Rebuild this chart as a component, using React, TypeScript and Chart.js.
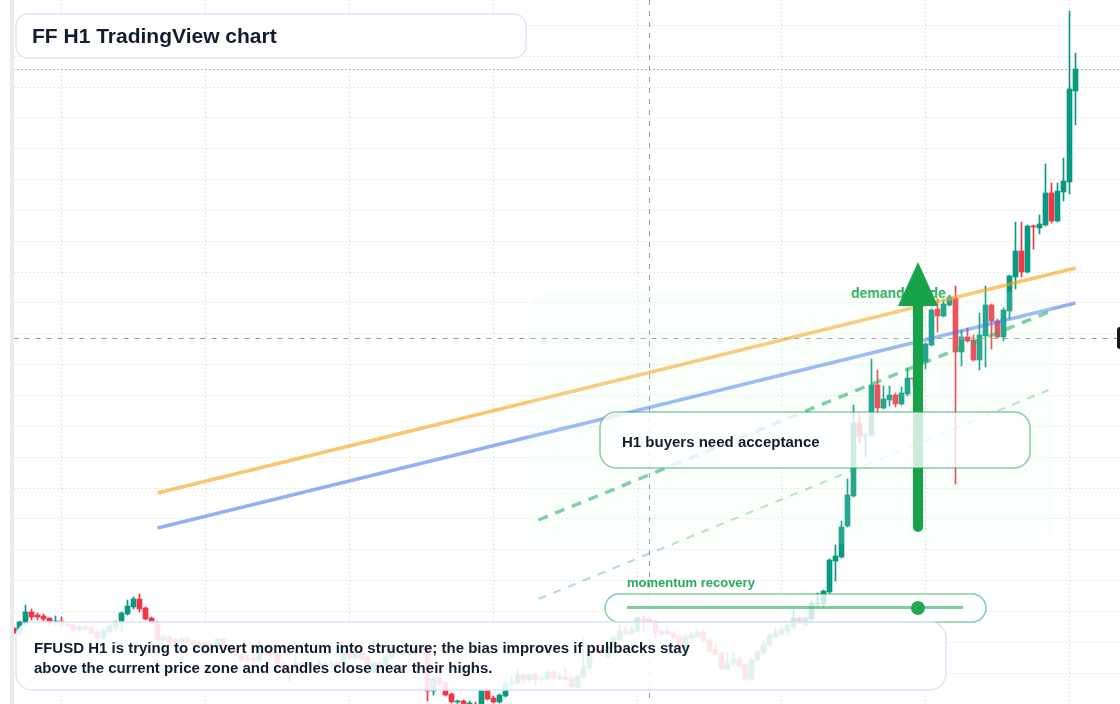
import React from "react";
import { Chart, registerables } from "chart.js";

Chart.register(...registerables);

// hourly candles, oldest first. price units are the chart's own (no axis labels in the reference)
const opens = [
  7.6, 7.1, 8.2, 9.2, 8.9, 8.8, 8.6, 8.2, 8.3, 8.0, 7.9, 7.4, 7.7, 7.6, 7.2, 6.7, 7.2, 7.7, 8.1, 9.0,
  9.7, 10.5, 9.6, 8.6, 8.2, 6.4, 6.7, 6.4, 6.2, 6.5, 6.3, 6.1, 6.1, 5.9, 5.9, 6.5, 5.9, 5.4, 4.9, 4.5,
  4.5, 4.3, 5.2, 5.1, 5.0, 4.0, 3.6, 3.8, 4.1, 3.9, 3.9, 3.8, 3.9, 3.9, 4.1, 4.2, 5.4, 4.6, 5.2, 4.7,
  3.2, 4.1, 4.0, 4.7, 5.4, 4.9, 5.4, 5.0, 5.6, 5.6, 1.3, 2.6, 2.1, 1.0, 0.2, 0.3, -0.1, -0.1, -0.2, 1.5,
  0.6, 0.2, 0.8, 2.1, 2.1, 2.9, 2.4, 3.0, 2.5, 2.5, 3.2, 2.5, 2.7, 2.6, 1.7, 2.7, 3.6, 5.4, 5.4, 4.7,
  5.7, 6.4, 7.3, 7.0, 7.3, 8.5, 8.5, 8.2, 7.0, 7.3, 7.1, 6.8, 5.7, 6.6, 6.8, 7.2, 6.4, 5.4, 5.1, 3.5,
  4.1, 4.5, 3.9, 2.5, 4.4, 5.1, 5.9, 6.7, 7.0, 7.3, 7.7, 8.6, 7.9, 8.5, 10.0, 10.0, 11.2, 14.3, 14.7, 17.8,
  20.8, 28.1, 26.8, 26.9, 31.9, 29.6, 30.4, 30.9, 30.0, 31.0, 32.6, 32.6, 34.2, 35.9, 39.5, 38.8, 39.9, 40.6, 35.2, 36.7,
  36.4, 34.4, 36.8, 39.9, 38.3, 36.7, 39.3, 42.7, 45.3, 43.2, 47.8, 47.6, 47.9, 51.1, 48.3, 51.2, 52.2, 61.3,
];
const closes = [
  7.1, 8.2, 9.2, 8.7, 8.7, 8.5, 8.2, 8.3, 7.9, 7.8, 7.4, 7.7, 7.5, 7.1, 6.6, 7.4, 7.8, 8.2, 9.1, 9.8,
  10.5, 9.5, 8.5, 8.2, 6.4, 6.7, 6.2, 6.2, 6.5, 6.2, 5.9, 5.9, 5.8, 5.8, 6.5, 5.9, 5.4, 4.9, 4.4, 4.4,
  4.4, 5.4, 5.0, 4.9, 4.1, 3.3, 3.2, 4.1, 3.8, 4.1, 3.7, 4.1, 4.0, 4.0, 3.9, 5.4, 4.6, 5.1, 4.5, 3.6,
  4.1, 3.9, 4.7, 5.6, 5.1, 5.4, 5.0, 5.6, 5.2, 1.3, 2.6, 2.0, 0.9, 0.2, 0.3, 0.0, 0.1, -0.4, 1.4, 0.5,
  0.2, 0.9, 2.0, 2.2, 2.9, 2.4, 2.9, 2.4, 2.6, 3.2, 2.6, 2.8, 2.5, 1.7, 2.8, 3.7, 5.1, 5.1, 5.0, 5.7,
  6.6, 7.3, 7.0, 7.4, 8.6, 8.4, 8.2, 7.1, 7.3, 7.0, 6.7, 5.7, 6.7, 6.9, 7.2, 6.3, 5.3, 5.0, 3.5, 4.2,
  4.5, 3.8, 2.5, 4.4, 5.2, 5.9, 6.9, 7.1, 7.4, 7.8, 8.6, 8.1, 8.6, 10.1, 10.1, 11.3, 14.4, 14.8, 17.7, 20.9,
  28.1, 26.8, 26.9, 31.9, 29.6, 30.5, 30.9, 30.0, 31.1, 32.6, 32.5, 34.2, 36.0, 39.4, 38.8, 40.0, 40.7, 35.2, 36.7, 36.3,
  34.4, 36.9, 39.9, 38.3, 36.7, 39.4, 42.8, 45.3, 43.2, 47.8, 47.7, 48.0, 51.1, 48.3, 51.3, 52.3, 61.5, 63.5,
];
const highs = [
  7.8, 8.3, 9.9, 9.5, 9.1, 9.0, 8.6, 8.8, 8.7, 8.1, 8.0, 7.9, 8.2, 7.7, 7.3, 7.5, 7.9, 8.3, 9.2, 10.4,
  10.7, 11.0, 9.7, 8.7, 8.3, 7.0, 6.8, 6.6, 6.7, 6.7, 6.4, 6.3, 6.2, 6.1, 6.6, 6.6, 6.0, 5.5, 5.0, 4.9,
  5.0, 6.4, 5.5, 5.3, 5.1, 4.1, 3.7, 5.4, 4.3, 4.3, 4.0, 4.5, 4.2, 4.3, 4.2, 5.7, 5.5, 5.3, 5.4, 4.8,
  4.3, 4.4, 4.9, 5.8, 5.6, 5.6, 5.6, 5.8, 5.8, 5.8, 2.7, 2.7, 2.2, 1.1, 0.4, 0.4, 0.3, 0.2, 1.5, 1.6,
  0.8, 1.0, 2.4, 2.7, 3.4, 3.0, 3.0, 3.1, 2.9, 3.4, 3.4, 3.0, 3.7, 2.7, 2.9, 6.7, 5.3, 5.6, 5.5, 5.9,
  6.8, 8.2, 7.7, 7.7, 8.7, 8.8, 8.7, 8.4, 7.4, 7.8, 7.2, 6.9, 7.1, 7.2, 7.4, 7.4, 6.5, 6.1, 5.2, 5.1,
  5.1, 4.7, 4.0, 4.5, 5.4, 6.4, 7.1, 7.7, 7.7, 8.0, 9.4, 8.7, 8.7, 10.3, 11.1, 11.4, 14.5, 15.9, 18.3, 22.5,
  29.9, 29.1, 27.1, 34.5, 33.4, 31.8, 31.8, 31.1, 31.7, 33.6, 32.6, 34.9, 36.1, 39.5, 40.5, 40.4, 40.9, 41.8, 37.4, 37.6,
  36.9, 39.1, 41.8, 40.0, 38.5, 39.6, 42.9, 48.2, 48.2, 47.9, 47.9, 48.9, 54.0, 52.1, 52.1, 54.6, 69.3, 65.1,
];
const lows = [
  7.0, 6.9, 7.9, 8.4, 8.4, 8.3, 7.8, 7.9, 7.7, 7.7, 7.2, 7.2, 7.3, 7.0, 6.5, 6.4, 7.1, 7.3, 7.3, 8.9,
  9.5, 9.2, 8.4, 8.1, 6.3, 6.3, 6.1, 6.0, 6.0, 6.0, 5.8, 5.7, 5.7, 5.6, 5.8, 5.8, 5.3, 4.8, 4.3, 4.2,
  4.1, 4.2, 4.9, 4.8, 4.0, 3.2, 2.2, 3.5, 3.7, 3.8, 3.6, 3.7, 3.8, 3.7, 3.8, 4.1, 4.5, 4.4, 4.4, 3.5,
  3.1, 3.6, 3.9, 4.6, 5.0, 4.8, 4.9, 4.9, 5.1, 0.3, 0.9, 1.9, 0.8, 0.1, 0.0, -0.1, -0.4, -0.5, -0.4, 0.4,
  0.1, 0.1, 0.7, 1.7, 2.0, 2.0, 2.2, 1.9, 2.3, 2.4, 2.5, 2.4, 2.4, 1.6, 1.6, 2.6, 3.5, 5.0, 4.9, 4.6,
  5.6, 6.3, 6.9, 6.9, 7.2, 7.3, 8.1, 6.6, 6.9, 6.9, 6.6, 5.6, 5.6, 6.5, 6.7, 6.2, 5.2, 4.9, 3.4, 3.4,
  3.8, 3.7, 2.3, 2.4, 4.3, 5.0, 5.8, 6.6, 6.9, 6.8, 7.6, 8.0, 7.8, 8.4, 9.6, 9.6, 11.1, 12.3, 14.6, 17.7,
  20.7, 26.0, 24.7, 26.8, 29.0, 29.5, 29.8, 29.7, 29.9, 30.8, 31.7, 32.5, 33.5, 35.8, 37.2, 38.7, 39.8, 22.0, 33.8, 36.2,
  34.3, 33.4, 33.7, 35.5, 36.6, 36.3, 38.5, 41.5, 42.7, 43.1, 45.5, 47.0, 47.8, 48.1, 48.2, 50.3, 51.0, 57.9,
];

// hour index of the first candle; vertical grid falls every 24 candles
const firstHour = -8;

const crosshairHour = 98;
const crosshairPrice = 36.55;
const lastPrice = 63.45;

// trend lines as [hour, price] end points
const orangeLine = [[16, 21.1], [169, 43.6]];
const blueLine = [[16, 17.6], [169, 40.1]];
const supportLine = [[79.5, 18.4], [164.5, 39.2]];
const lowerLine = [[79.5, 10.5], [164.5, 31.4]];

// demand zone [hourFrom, hourTo, priceLow, priceHigh]
const demandZone = [77.75, 165.1, 16, 41.2];
// arrow [hour, tailPrice, headBasePrice, tipPrice]
const arrow = [142.75, 17.7, 39.8, 44.2];

const UP = "#089981";
const DOWN = "#f23645";

const hours = opens.map((_, i) => firstHour + i);
const candleColors = opens.map((o, i) => (closes[i] >= o ? UP : DOWN));

const toPoints = (line: number[][]) => line.map(([x, y]) => ({ x, y }));

const overlayPlugin = {
  id: "overlays",
  afterDatasetsDraw(chart: any) {
    const { ctx, scales } = chart;
    const { x, y } = scales;

    // zone sits above the candles and washes them out a little
    const zx0 = x.getPixelForValue(demandZone[0]);
    const zx1 = x.getPixelForValue(demandZone[1]);
    const zy0 = y.getPixelForValue(demandZone[3]);
    const zy1 = y.getPixelForValue(demandZone[2]);
    ctx.save();
    ctx.fillStyle = "rgba(220,252,231,0.14)";
    ctx.beginPath();
    ctx.roundRect(zx0, zy0, zx1 - zx0, zy1 - zy0, 18);
    ctx.fill();

    const ax = x.getPixelForValue(arrow[0]);
    const tail = y.getPixelForValue(arrow[1]);
    const base = y.getPixelForValue(arrow[2]);
    const tip = y.getPixelForValue(arrow[3]);
    ctx.strokeStyle = "#16a34a";
    ctx.fillStyle = "#16a34a";
    ctx.lineWidth = 10;
    ctx.lineCap = "round";
    ctx.beginPath();
    ctx.moveTo(ax, tail);
    ctx.lineTo(ax, base);
    ctx.stroke();
    ctx.beginPath();
    ctx.moveTo(ax, tip);
    ctx.lineTo(ax + 20, base);
    ctx.lineTo(ax - 20, base);
    ctx.closePath();
    ctx.fill();
    ctx.restore();
  },
};

const font = '"Liberation Sans", Arial, sans-serif';

// panels are svg rects: css would floor a 1.5px border down to 1px
const Panel = ({ x, y, w, h, r, stroke, fill }: { x: number; y: number; w: number; h: number; r: number; stroke: string; fill: string }) => (
  <svg width={1120} height={704} style={{ position: "absolute", left: 0, top: 0 }}>
    <rect x={x} y={y} width={w} height={h} rx={r} ry={r} fill={fill} stroke={stroke} strokeWidth={1.5} />
  </svg>
);

const BLUE_EDGE = "#dae6fb";
const GREEN_EDGE = "rgba(22,163,74,0.52)";
const INK = "#111c2e";
const GREEN_TEXT = "#27ab5b";

const label = (left: number, top: number, fontSize: number, lineHeight: number, color: string): React.CSSProperties => ({
  position: "absolute",
  left,
  top,
  fontSize,
  lineHeight: `${lineHeight}px`,
  fontWeight: 700,
  color,
  whiteSpace: "nowrap",
});

const App = () => {
  const canvasRef = React.useRef<HTMLCanvasElement>(null);

  React.useEffect(() => {
    if (!canvasRef.current) return;
    const chart = new Chart(canvasRef.current, {
      type: "bar",
      plugins: [overlayPlugin],
      data: {
        datasets: [
          {
            label: "wicks",
            order: 6,
            data: hours.map((h, i) => ({ x: h, y: [lows[i], highs[i]] })) as any,
            backgroundColor: candleColors,
            barThickness: 1,
            grouped: false,
          },
          {
            label: "bodies",
            order: 5,
            data: hours.map((h, i) => ({ x: h, y: [opens[i], closes[i]] })) as any,
            backgroundColor: candleColors,
            barThickness: 5,
            grouped: false,
          },
          {
            type: "line",
            label: "crosshair x",
            order: 4,
            data: [{ x: crosshairHour, y: 70.4 }, { x: crosshairHour, y: 0 }],
            borderColor: "#9a9a9a",
            borderWidth: 1,
            borderDash: [5, 6],
            pointRadius: 0,
          },
          {
            type: "line",
            label: "crosshair y",
            order: 4,
            data: [{ x: firstHour, y: crosshairPrice }, { x: 177, y: crosshairPrice }],
            borderColor: "#9a9a9a",
            borderWidth: 1,
            borderDash: [5, 6],
            pointRadius: 0,
          },
          {
            type: "line",
            label: "last price",
            order: 4,
            data: [{ x: firstHour, y: lastPrice }, { x: 177, y: lastPrice }],
            borderColor: UP,
            borderWidth: 1,
            borderDash: [1, 3],
            pointRadius: 0,
          },
          {
            type: "line",
            label: "orange",
            order: 3,
            data: toPoints(orangeLine),
            borderColor: "rgba(245,158,11,0.6)",
            borderWidth: 3.5,
            pointRadius: 0,
          },
          {
            type: "line",
            label: "blue",
            order: 3,
            data: toPoints(blueLine),
            borderColor: "rgba(37,99,235,0.5)",
            borderWidth: 3.5,
            pointRadius: 0,
          },
          {
            type: "line",
            label: "support",
            order: 3,
            data: toPoints(supportLine),
            borderColor: "rgba(22,163,74,0.6)",
            borderWidth: 3.5,
            borderDash: [10, 8],
            pointRadius: 0,
          },
          {
            type: "line",
            label: "lower",
            order: 3,
            data: toPoints(lowerLine),
            borderColor: "rgba(22,163,74,0.35)",
            borderWidth: 2,
            borderDash: [8, 8],
            pointRadius: 0,
          },
        ] as any,
      },
      options: {
        responsive: false,
        animation: false,
        parsing: { xAxisKey: "x", yAxisKey: "y" },
        layout: { padding: { left: 14, right: 0, top: 0, bottom: 0 } },
        plugins: { legend: { display: false }, tooltip: { enabled: false } },
        datasets: { bar: { borderWidth: 0 } },
        scales: {
          x: {
            type: "linear",
            min: -7.9167,
            max: 176.4167,
            offset: false,
            ticks: { display: false, stepSize: 24, includeBounds: false },
            grid: { color: "#d4d4d4", lineWidth: 1, drawTicks: false, offset: false },
            border: { display: false, dash: [1, 3] },
          },
          y: {
            type: "linear",
            min: 0,
            max: 70.4,
            ticks: { display: false, stepSize: 3.085, includeBounds: false },
            grid: { color: "#d4d4d4", lineWidth: 1, drawTicks: false },
            border: { display: false, dash: [1, 3] },
          },
        },
      } as any,
    });
    return () => chart.destroy();
  }, []);

  return (
    <div style={{ position: "fixed", left: 0, top: 0, width: 1120, height: 704, overflow: "hidden", background: "#fff", fontFamily: font }}>
      <div style={{ position: "absolute", left: 10, top: 0, width: 4, height: 704, background: "#ebebeb" }} />
      {/* sits under the transparent canvas so the arrow head covers it */}
      <div style={label(851, 285, 14, 17, GREEN_TEXT)}>demand guide</div>
      <canvas ref={canvasRef} width={1120} height={704} style={{ position: "absolute", left: 0, top: 0, width: 1120, height: 704 }} />

      <div style={{ position: "absolute", left: 1117, top: 327, width: 12, height: 22, borderRadius: 3, background: "#131722" }} />

      <Panel x={16} y={14} w={510} h={44} r={12} stroke={BLUE_EDGE} fill="rgba(255,255,255,0.88)" />
      <div style={label(32, 22, 21, 28, INK)}>FF H1 TradingView chart</div>

      <Panel x={600} y={412} w={430} h={56} r={16} stroke={GREEN_EDGE} fill="rgba(255,255,255,0.78)" />
      <div style={label(622, 432, 15, 20, INK)}>H1 buyers need acceptance</div>

      <Panel x={605} y={594} w={381} h={28} r={14} stroke={GREEN_EDGE} fill="rgba(255,255,255,0.8)" />
      <div style={label(627, 574, 13, 17, GREEN_TEXT)}>momentum recovery</div>
      <div style={{ position: "absolute", left: 627, top: 606, width: 336, height: 3, background: "rgba(22,163,74,0.55)" }} />
      <div style={{ position: "absolute", left: 911, top: 601, width: 14, height: 14, borderRadius: 7, background: "#22a755" }} />

      <Panel x={16} y={622} w={930} h={68} r={16} stroke={BLUE_EDGE} fill="rgba(255,255,255,0.87)" />
      <div style={{ position: "absolute", left: 34, top: 638, width: 690, fontSize: 15, lineHeight: "20px", fontWeight: 700, color: INK }}>
        FFUSD H1 is trying to convert momentum into structure; the bias improves if pullbacks stay above the current price zone and candles close near their highs.
      </div>
    </div>
  );
};

export default App;
